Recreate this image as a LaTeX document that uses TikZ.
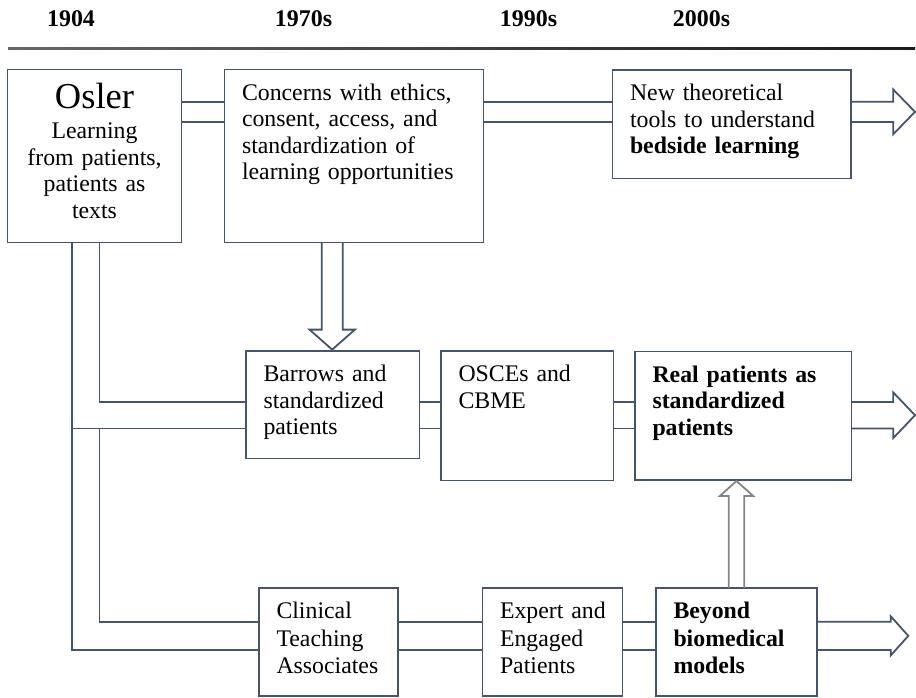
\documentclass[tikz,border=0pt]{standalone}
\usepackage{fontspec}
\setmainfont{Liberation Serif}
\usetikzlibrary{calc}
\definecolor{edge}{RGB}{68,84,106}
\definecolor{greyarrow}{RGB}{132,132,132}
\newcommand\lines[1]{\begin{tabular}[t]{@{}l@{}}#1\end{tabular}}
\tikzset{
  box/.style={draw=edge, line width=1.8pt, rectangle, inner xsep=17.5pt, inner ysep=12pt,
    outer sep=0pt, anchor=north west, align=left, text height=18.5pt,
    font=\fontsize{23.8}{26.5}\selectfont},
  lowbox/.style={box, font=\fontsize{23.8}{27.5}\selectfont},
  pipe/.style={draw=edge, line width=1.8pt, line join=miter},
  greypipe/.style={draw=greyarrow, line width=1.8pt, line join=miter},
  yearlabel/.style={font=\bfseries\fontsize{23.9}{26}\selectfont, anchor=base, inner sep=0pt},
}
\begin{document}
\begin{tikzpicture}[x=1pt, y=-1pt]
\useasboundingbox (0,0) rectangle (916,697);

% header
\node[yearlabel] (y1904) at (71,26) {1904};
\node[yearlabel] (y1970) at (303.5,26) {1970s};
\node[yearlabel] (y1990) at (528.5,26) {1990s};
\node[yearlabel] (y2000) at (701.5,26) {2000s};
\shade[left color=black!60, right color=black!90] (8,47) rectangle (915,49.4);

% boxes
\node[box, inner xsep=0pt, align=center, text width=174pt, text height=26.5pt, text depth=122.5pt] (osler) at (7.5,69.5)
  {{\fontsize{36.5}{40}\selectfont Osler}\\[4pt]Learning\\from patients,\\patients as\\texts};
\node[box, text width=224pt, text depth=130.5pt] (concerns) at (224.5,69.5)
  {\lines{Concerns with ethics,\\consent, access, and\\standardization of\\learning opportunities}};
\node[box, text width=203.5pt, text depth=66pt] (newtools) at (612.5,70)
  {\lines{New theoretical\\tools to understand\\\textbf{bedside learning}}};
\node[box, text width=138.5pt, text depth=65pt] (barrows) at (246,351)
  {\lines{Barrows and\\standardized\\patients}};
\node[box, text width=137.5pt, text depth=87pt] (osces) at (441,351)
  {\lines{OSCEs and\\CBME}};
\node[box, text width=181.5pt, text depth=86pt] (real) at (635,351.5)
  {\lines{\textbf{Real patients as}\\\textbf{standardized}\\\textbf{patients}}};
\node[lowbox, text width=104pt, text depth=65.5pt] (cta) at (259,588)
  {\lines{Clinical\\Teaching\\Associates}};
\node[lowbox, text width=105pt, text depth=65.5pt] (expert) at (482.5,588)
  {\lines{Expert and\\Engaged\\Patients}};
\node[lowbox, text width=126pt, text depth=65.5pt] (beyond) at (656,588)
  {\lines{\textbf{Beyond}\\\textbf{biomedical}\\\textbf{models}}};

% helper levels
\coordinate (yA1) at (0,101.7);
\coordinate (yA2) at (0,122);
\coordinate (yB1) at (0,402);
\coordinate (yB2) at (0,428.5);
\coordinate (yC1) at (0,621.7);
\coordinate (yC2) at (0,650);
\coordinate (xo) at (72,0);
\coordinate (xi) at (99.5,0);

% top row pipes
\draw[pipe] (osler.east |- yA1) -- (concerns.west |- yA1);
\draw[pipe] (osler.east |- yA2) -- (concerns.west |- yA2);
\draw[pipe] (concerns.east |- yA1) -- (newtools.west |- yA1);
\draw[pipe] (concerns.east |- yA2) -- (newtools.west |- yA2);
\coordinate (tipA) at (915,111.85);
\draw[pipe] (newtools.east |- yA1) -- ($(tipA)+(-21.7,-10.15)$) -- ($(tipA)+(-21.7,-22.3)$) -- (tipA)
  -- ($(tipA)+(-21.7,22.3)$) -- ($(tipA)+(-21.7,10.15)$) -- (newtools.east |- yA2);

% down arrow concerns -> barrows
\coordinate (tipD) at (332.2,349.6);
\coordinate (sdl) at (321.7,0);
\coordinate (sdr) at (342.7,0);
\draw[pipe] (sdl |- concerns.south) -- ($(tipD)+(-10.5,-20)$) -- ($(tipD)+(-22.7,-20)$) -- (tipD)
  -- ($(tipD)+(22.7,-20)$) -- ($(tipD)+(10.5,-20)$) -- (sdr |- concerns.south);

% left branching pipes
\draw[pipe] (xi |- osler.south) |- (barrows.west |- yB1);
\draw[pipe] (xo |- osler.south) |- (cta.west |- yC2);
\draw[pipe] (xo |- yB2) -- (barrows.west |- yB2);
\draw[pipe] (xi |- yB2) |- (cta.west |- yC1);

% middle row pipes
\draw[pipe] (barrows.east |- yB1) -- (osces.west |- yB1);
\draw[pipe] (barrows.east |- yB2) -- (osces.west |- yB2);
\draw[pipe] (osces.east |- yB1) -- (real.west |- yB1);
\draw[pipe] (osces.east |- yB2) -- (real.west |- yB2);
\coordinate (tipB) at (915,415.25);
\draw[pipe] (real.east |- yB1) -- ($(tipB)+(-21.7,-13.25)$) -- ($(tipB)+(-21.7,-22.8)$) -- (tipB)
  -- ($(tipB)+(-21.7,22.8)$) -- ($(tipB)+(-21.7,13.25)$) -- (real.east |- yB2);

% bottom row pipes
\draw[pipe] (cta.east |- yC1) -- (expert.west |- yC1);
\draw[pipe] (cta.east |- yC2) -- (expert.west |- yC2);
\draw[pipe] (expert.east |- yC1) -- (beyond.west |- yC1);
\draw[pipe] (expert.east |- yC2) -- (beyond.west |- yC2);
\coordinate (tipC) at (908.3,635.85);
\draw[pipe] (beyond.east |- yC1) -- ($(tipC)+(-17.5,-14.15)$) -- ($(tipC)+(-17.5,-19.5)$) -- (tipC)
  -- ($(tipC)+(-17.5,19.5)$) -- ($(tipC)+(-17.5,14.15)$) -- (beyond.east |- yC2);

% grey up arrow beyond -> real
\coordinate (tipG) at (736.5,481);
\coordinate (sgl) at (728.7,0);
\coordinate (sgr) at (744.3,0);
\draw[greypipe] (sgl |- beyond.north) -- ($(tipG)+(-7.8,15)$) -- ($(tipG)+(-16.7,15)$) -- (tipG)
  -- ($(tipG)+(16.7,15)$) -- ($(tipG)+(7.8,15)$) -- (sgr |- beyond.north);
\end{tikzpicture}
\end{document}
